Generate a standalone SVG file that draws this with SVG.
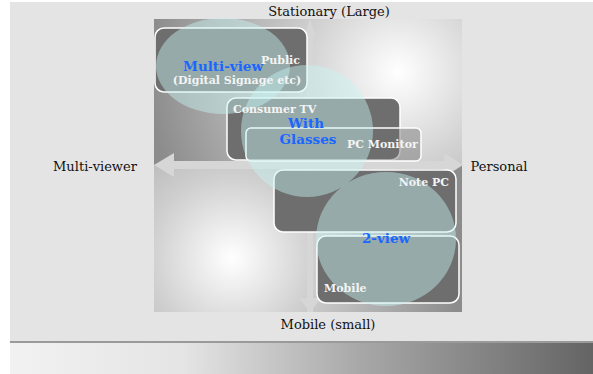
<svg xmlns="http://www.w3.org/2000/svg" width="593" height="374" viewBox="0 0 593 374">
<defs>
<radialGradient id="gTop" gradientUnits="userSpaceOnUse" cx="398" cy="72" r="250">
<stop offset="0" stop-color="#ffffff"/>
<stop offset="0.35" stop-color="#d4d4d4"/>
<stop offset="1" stop-color="#8c8c8c"/>
</radialGradient>
<radialGradient id="gBot" gradientUnits="userSpaceOnUse" cx="232" cy="258" r="230">
<stop offset="0" stop-color="#ffffff"/>
<stop offset="0.35" stop-color="#d0d0d0"/>
<stop offset="1" stop-color="#8c8c8c"/>
</radialGradient>
<linearGradient id="gBar" x1="0" y1="0" x2="1" y2="0">
<stop offset="0" stop-color="#f2f2f2"/>
<stop offset="0.3" stop-color="#e4e4e4"/>
<stop offset="0.6" stop-color="#a8a8a8"/>
<stop offset="1" stop-color="#646464"/>
</linearGradient>
</defs>
<style>
.box{fill:#6e6e6e;stroke:#ffffff;stroke-width:1.5}
.ell{fill:#c8f4f4;fill-opacity:0.45}
.axis{font-family:"DejaVu Serif",serif;font-size:13px;fill:#111}
.lbl{font-family:"DejaVu Serif",serif;font-weight:bold;font-size:11px;fill:#f4f4f4}
.blue{font-family:"DejaVu Serif",serif;font-weight:bold;font-size:13.5px;fill:#1a66ff}
.arr{fill:#d6d6d6}
</style>
<rect x="0" y="0" width="593" height="374" fill="#ffffff"/>
<rect x="10" y="2" width="583" height="339" fill="#e4e4e4"/>
<rect x="10" y="341" width="583" height="2" fill="#9a9a9a"/>
<rect x="10" y="343" width="583" height="31" fill="url(#gBar)"/>
<rect x="154" y="19" width="308" height="146" fill="url(#gTop)"/>
<rect x="154" y="165" width="308" height="147" fill="url(#gBot)"/>
<g id="connectors">
<polygon class="arr" points="307,312 307,37 304,37 310,19 316,37 313,37 313,312"/>
<polygon class="arr" points="299,298 321,298 310,312"/>
<polygon class="arr" points="174,161 444,161 444,153 463,165 444,177 444,169 174,169 174,177 154,165 174,153"/>
</g>
<g id="public">
<rect class="box" x="155" y="28" width="152" height="64" rx="9"/>
</g>
<g id="consumer-tv">
<rect class="box" x="227" y="98" width="173" height="62" rx="9"/>
</g>
<g id="pc-monitor">
<rect x="246" y="128" width="175" height="33" rx="5" fill="#6e6e6e" fill-opacity="0.45" stroke="#ffffff" stroke-width="1.5"/>
</g>
<g id="note-pc">
<rect class="box" x="274" y="170" width="182" height="62" rx="9"/>
</g>
<g id="mobile">
<rect class="box" x="317" y="236" width="142" height="67" rx="9"/>
</g>
<g id="zones">
<ellipse class="ell" cx="223" cy="66" rx="67" ry="48"/>
<ellipse class="ell" cx="307" cy="131" rx="66" ry="66"/>
<ellipse class="ell" cx="386" cy="239" rx="70" ry="67"/>
</g>
<g id="labels">
<text class="lbl" x="300" y="64" text-anchor="end">Public</text>
<text class="blue" x="223" y="71" text-anchor="middle" font-size="13px">Multi-view</text>
<text class="lbl" x="237" y="84" text-anchor="middle" font-size="10.5px">(Digital Signage etc)</text>
<text class="lbl" x="233" y="113">Consumer TV</text>
<text class="blue" x="306" y="128" text-anchor="middle">With</text>
<text class="blue" x="308" y="144" text-anchor="middle">Glasses</text>
<text class="lbl" x="347" y="148" font-size="10.5px">PC Monitor</text>
<text class="lbl" x="449" y="186" text-anchor="end">Note PC</text>
<text class="blue" x="386" y="243" text-anchor="middle">2-view</text>
<text class="lbl" x="324" y="292">Mobile</text>
</g>
<g id="axes">
<text class="axis" x="329" y="16" text-anchor="middle">Stationary (Large)</text>
<text class="axis" x="328" y="329" text-anchor="middle">Mobile (small)</text>
<text class="axis" x="95" y="171" text-anchor="middle">Multi-viewer</text>
<text class="axis" x="499" y="171" text-anchor="middle">Personal</text>
</g>
</svg>
